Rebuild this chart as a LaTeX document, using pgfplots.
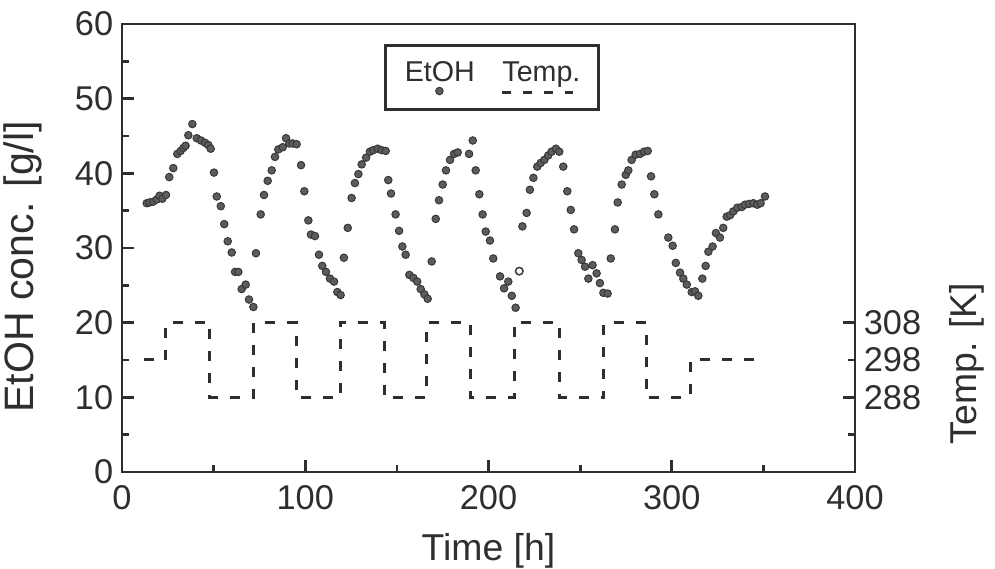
\documentclass[border=0pt]{standalone}
\usepackage{fontspec}
\setmainfont{Liberation Sans}
\usepackage{pgfplots}
\pgfplotsset{compat=1.18}
\definecolor{mk}{gray}{0.36}
\definecolor{mkd}{gray}{0.22}
\definecolor{ax}{gray}{0.18}
\pgfplotstableread{
h c
13.5 36.0
15 36.1
17 36.2
19 36.5
20.5 37.0
22 36.6
24 37.1
25.8 39.5
28 40.7
30.2 42.6
32 43.0
33.5 43.4
34.7 43.7
36.2 45.1
38.4 46.6
40.8 44.7
43.1 44.4
45.3 44.1
47.1 43.8
48.4 43.3
50.2 40.1
51.7 36.9
53.9 35.6
55.8 33.2
57.7 30.9
59.9 29.4
61.7 26.8
63.5 26.8
65.3 24.5
67.5 25.1
69.3 23.1
71.7 22.1
73.1 29.3
75.7 34.5
77.5 37.1
79.5 39.0
81.7 40.4
83.5 42.2
85.3 43.2
87.7 43.5
89.5 44.7
91.3 44.0
93.1 44.0
95.3 43.9
97.7 41.1
99.5 37.6
101.7 33.7
103.1 31.8
105.3 31.6
107.5 29.1
109.3 27.6
111.3 26.8
113.5 25.9
115.7 25.5
117.5 24.1
119.3 23.7
121.1 28.7
123.2 32.7
125.3 36.7
127.1 38.7
129 39.9
130.8 41.2
133.2 42.1
135.3 42.9
137.1 43.1
139.5 43.3
141.7 43.1
143.9 43.0
145.3 39.1
146.8 37.3
149.3 34.5
151.2 32.3
153 30.2
154.8 29.1
156.8 26.4
159 26.0
161.1 25.5
163 24.5
165 23.8
166.8 23.2
169 28.2
171.2 33.9
173 36.4
175 38.5
176.8 40.4
179 41.8
181.2 42.6
183.2 42.8
189.4 42.6
191.4 44.4
193 40.4
195 37.2
196.8 34.5
198.5 32.2
200.8 31.0
202.6 28.6
206.3 26.2
208.5 24.6
210.8 25.5
212.7 23.6
214.8 22.0
218.5 32.9
220.8 34.7
222.6 37.8
224.5 39.4
226.6 40.9
228.5 41.4
230.5 41.8
232.6 42.4
234.4 42.9
236.8 43.3
238.6 42.9
240.8 40.9
243 37.6
244.9 35.1
246.7 32.5
249 29.3
250.8 28.4
252.7 27.5
254.5 25.9
256.8 27.7
259 26.6
260.8 25.3
262.7 24.0
265 23.9
266.7 28.6
269 32.5
270.5 36.1
272.7 38.5
274.9 39.8
276.3 40.4
278.1 41.8
280.3 42.5
282.7 42.6
284.9 42.9
286.9 43.0
288.7 39.6
290.5 37.2
292.7 34.5
298.1 31.4
300.5 30.3
302.2 28.0
304.5 26.7
306.3 25.9
308.2 25.1
310.9 24.1
312.7 24.2
314.5 23.6
316.7 25.9
318.5 27.6
320 29.5
322.3 30.2
324.1 32.0
326.3 31.4
328.1 32.7
330 34.2
331.9 34.4
333.6 34.9
335.8 35.4
338.2 35.5
340 35.8
342.2 35.9
344.5 36.0
346.7 35.8
348.5 36.0
350.9 36.9
}\etoh
\pgfplotstableread{
h T
12 298
24 308
48 288
72 308
95 288
119 308
143 288
166 308
190 288
214 308
239 288
263 308
286 288
310 298
350 298
}\temp
\begin{document}
\begin{tikzpicture}
\useasboundingbox (-48.8bp,-38.8bp) rectangle (349.2bp,188.8bp);
\begin{axis}[
  at={(0,0)}, anchor=south west,
  scale only axis, width=293.2bp, height=179.2bp,
  xmin=0, xmax=400, ymin=0, ymax=60,
  axis line style={ax, line width=1.1bp},
  xtick pos=bottom, ytick pos=left, tick align=inside,
  xtick={0,100,...,400}, minor xtick={50,150,250,350},
  ytick={0,10,...,60}, minor ytick={5,15,...,55},
  major tick length=4.8bp, minor tick length=2.8bp,
  every tick/.style={ax, line width=1.1bp},
  /pgf/number format/assume math mode=true,
  tick label style={font=\fontsize{13.8}{16}\selectfont, text=ax},
  xticklabel style={yshift=-2bp},
  label style={font=\fontsize{15}{18}\selectfont, text=ax},
  xlabel={Time [h]}, ylabel={EtOH conc. [g/l]},
  xlabel style={at={(axis description cs:0.5,-0.175)}, anchor=center},
  ylabel style={at={(axis description cs:-0.135,0.458)}, anchor=center, font=\fontsize{16.5}{19}\selectfont},
  legend columns=2,
  legend style={at={(axis cs:143,57.3)}, anchor=north west, draw=ax,
    line width=1.1bp, inner sep=0pt, column sep=0pt, row sep=0pt,
    nodes={inner sep=0pt}},
]
\addplot[only marks, mark=*, mark size=1.5bp, mark options={fill=mk, draw=mkd, line width=0.4bp}, forget plot] table[x=h, y=c] {\etoh};
\addplot[only marks, mark=*, mark size=1.5bp, mark options={fill=white, draw=mkd, line width=0.6bp}, forget plot] coordinates {(216.8,26.9)};
\addlegendimage{legend image code/.code={
  \path[draw=none, fill=none] (-7.2bp,-11.2bp) rectangle (38bp,14.4bp);
  \node[anchor=base west, inner sep=0pt, draw=none, fill=none, font=\fontsize{11.5}{13}\selectfont, text=ax] at (0,0) {EtOH};
  \path[fill=mk, draw=mkd, line width=0.4bp] (14.4bp,-3.8bp) circle (1.5bp);
}}
\addlegendentry{\mbox{}}
\addlegendimage{legend image code/.code={
  \path[draw=none, fill=none] (0,-11.2bp) rectangle (37.9bp,14.4bp);
  \node[anchor=base west, inner sep=0pt, draw=none, fill=none, font=\fontsize{11.5}{13}\selectfont, text=ax] at (0,0) {Temp.};
  \path[draw=ax, fill=none, line width=1.1bp, dash pattern=on 3.5bp off 4.8bp] (0.5bp,-4.4bp) -- (33.5bp,-4.4bp);
}}
\addlegendentry{\mbox{}}
\end{axis}
\begin{axis}[
  at={(0,0)}, anchor=south west,
  scale only axis, width=293.2bp, height=179.2bp,
  xmin=0, xmax=400, ymin=268, ymax=388,
  axis x line=none, axis y line*=right,
  axis line style={ax, line width=1.1bp},
  tick align=inside,
  ytick={288,308}, minor ytick={278},
  extra y ticks={298}, extra y tick style={major tick length=2.8bp},
  major tick length=4.8bp, minor tick length=2.8bp,
  every tick/.style={ax, line width=1.1bp},
  /pgf/number format/assume math mode=true,
  tick label style={font=\fontsize{13.8}{16}\selectfont, text=ax},
  label style={font=\fontsize{15}{18}\selectfont, text=ax},
  ylabel={Temp. [K]},
  ylabel style={at={(axis description cs:1.153,0.242)}, anchor=center},
]
\addplot[const plot, no marks, ax, line width=1.2bp, dash pattern=on 4bp off 4.8bp] table[x=h, y=T] {\temp};
\end{axis}
\end{tikzpicture}
\end{document}
